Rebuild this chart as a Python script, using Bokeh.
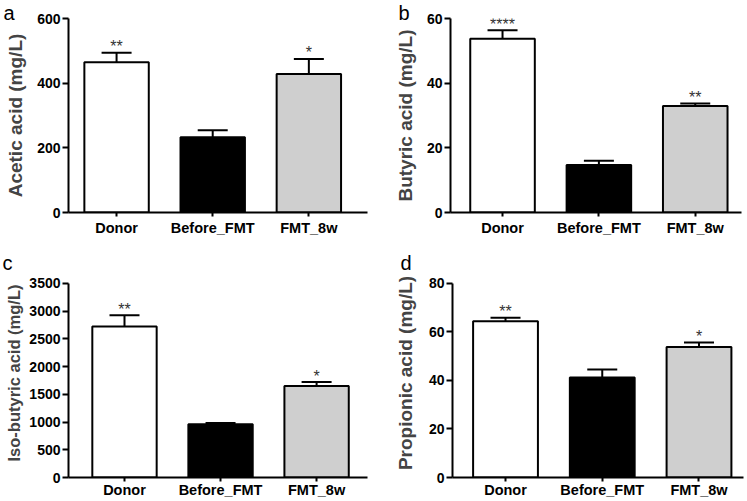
from bokeh.plotting import figure
from bokeh.models import (ColumnDataSource, Range1d, FixedTicker, Whisker, TeeHead)
from bokeh.layouts import row, column
from bokeh.embed import file_html
from bokeh.resources import INLINE
from bokeh.core.properties import value

# ---------------- data ----------------
categories = ["Donor", "Before_FMT", "FMT_8w"]
bar_colors = ["white", "black", "#cfcfcf"]

acetic_mean = [465, 233, 428]
acetic_sem = [29, 21, 47]
acetic_stars = ["**", "", "*"]

butyric_mean = [53.7, 14.7, 32.9]
butyric_sem = [2.7, 1.3, 0.8]
butyric_stars = ["****", "", "**"]

isobutyric_mean = [2725, 960, 1650]
isobutyric_sem = [200, 22, 72]
isobutyric_stars = ["**", "", "*"]

propionic_mean = [64.4, 41.2, 53.8]
propionic_sem = [1.5, 3.3, 1.8]
propionic_stars = ["**", "", "*"]

y_ticks_a = [0, 200, 400, 600]
y_ticks_b = [0, 20, 40, 60]
y_ticks_c = [0, 500, 1000, 1500, 2000, 2500, 3000, 3500]
y_ticks_d = [0, 20, 40, 60, 80]

FONT = "Liberation Sans"
TOP = 18  # top border of every panel (letter sits in it)


def panel(letter, ylabel, means, sems, stars, yticks, width, height,
          left, right, axis_top, bottom, xr, letter_x, label_size, label_standoff,
          x_standoff):
    xs = [i + 0.5 for i in range(len(categories))]
    src = ColumnDataSource(dict(
        x=xs, top=means, upper=[m + s for m, s in zip(means, sems)],
        color=bar_colors, stars=stars))
    # frame may extend above the top tick; the y axis line is bounded to the ticks
    frame_h = height - TOP - bottom
    axis_h = height - axis_top - bottom
    y_end = yticks[-1] * frame_h / axis_h
    p = figure(width=width, height=height, output_backend="svg", toolbar_location=None,
               x_range=Range1d(*xr), y_range=Range1d(yticks[0], y_end))
    p.min_border_left = left
    p.min_border_right = right
    p.min_border_top = TOP
    p.min_border_bottom = bottom
    p.outline_line_color = None
    p.grid.visible = False
    p.background_fill_color = "white"
    p.border_fill_color = "white"

    p.vbar(x="x", top="top", bottom=0, width=0.67, fill_color="color",
           line_color="black", line_width=2, source=src)
    w = Whisker(source=src, base="x", upper="upper", lower="top", dimension="height",
                line_color="black", line_width=2,
                upper_head=TeeHead(size=30, line_width=2, line_color="black"),
                lower_head=None, level="glyph")
    p.add_layout(w)
    p.text(x="x", y="upper", text="stars", source=src, text_align="center",
           text_baseline="alphabetic", y_offset=-6, text_font_size="16px",
           text_color="#333333", text_font=value(FONT))

    xa = p.xaxis[0]
    xa.ticker = FixedTicker(ticks=xs)
    xa.major_label_overrides = {x: c for x, c in zip(xs, categories)}
    xa.axis_line_width = 2
    xa.major_tick_line_width = 2
    xa.major_tick_out = 4
    xa.major_tick_in = 0
    xa.minor_tick_line_color = None
    xa.major_label_standoff = x_standoff
    xa.major_label_text_font = FONT
    xa.major_label_text_font_style = "bold"
    xa.major_label_text_font_size = "14.5px"
    xa.major_label_text_color = "black"

    ya = p.yaxis[0]
    ya.ticker = FixedTicker(ticks=yticks)
    ya.bounds = (yticks[0], yticks[-1])
    ya.axis_line_width = 2
    ya.major_tick_line_width = 2
    ya.major_tick_out = 6
    ya.major_tick_in = 0
    ya.minor_tick_line_color = None
    ya.major_label_standoff = 2
    ya.major_label_text_font = FONT
    ya.major_label_text_font_style = "bold"
    ya.major_label_text_font_size = "14px"
    ya.major_label_text_color = "black"
    ya.axis_label = ylabel
    ya.axis_label_text_font = FONT
    ya.axis_label_text_font_style = "bold"
    ya.axis_label_text_font_size = label_size
    ya.axis_label_standoff = label_standoff

    # panel letter as a left-aligned title sitting in the top border
    p.title.text = letter
    p.title.align = "left"
    p.title.vertical_align = "top"
    p.title.offset = letter_x - left
    p.title.text_font = FONT
    p.title.text_font_style = "normal"
    p.title.text_font_size = "20px"
    p.title.text_color = "black"
    try:
        p.title.standoff = -14
    except Exception:
        p.title.standoff = 0
    return p


pa = panel("a", "Acetic acid (mg/L)", acetic_mean, acetic_sem, acetic_stars, y_ticks_a,
           373, 250, 68, 6, 18, 38, (0.0, 3.11), 3, "19px", 8, 3)
pb = panel("b", "Butyric acid (mg/L)", butyric_mean, butyric_sem, butyric_stars, y_ticks_b,
           373, 250, 77, 5, 18, 38, (-0.04, 2.98), 25, "19px", 8, 3)
pc = panel("c", "Iso-butyric acid (mg/L)", isobutyric_mean, isobutyric_sem, isobutyric_stars,
           y_ticks_c, 373, 250, 68, 6, 33, 22, (-0.083, 3.03), 2, "16.5px", 3, 0)
pd_ = panel("d", "Propionic acid (mg/L)", propionic_mean, propionic_sem, propionic_stars,
            y_ticks_d, 373, 250, 79, 3, 33, 22, (-0.048, 2.96), 27, "19px", 10, 0)

layout = column(row(pa, pb), row(pc, pd_))
open("out.html", "w").write(file_html(layout, INLINE))
